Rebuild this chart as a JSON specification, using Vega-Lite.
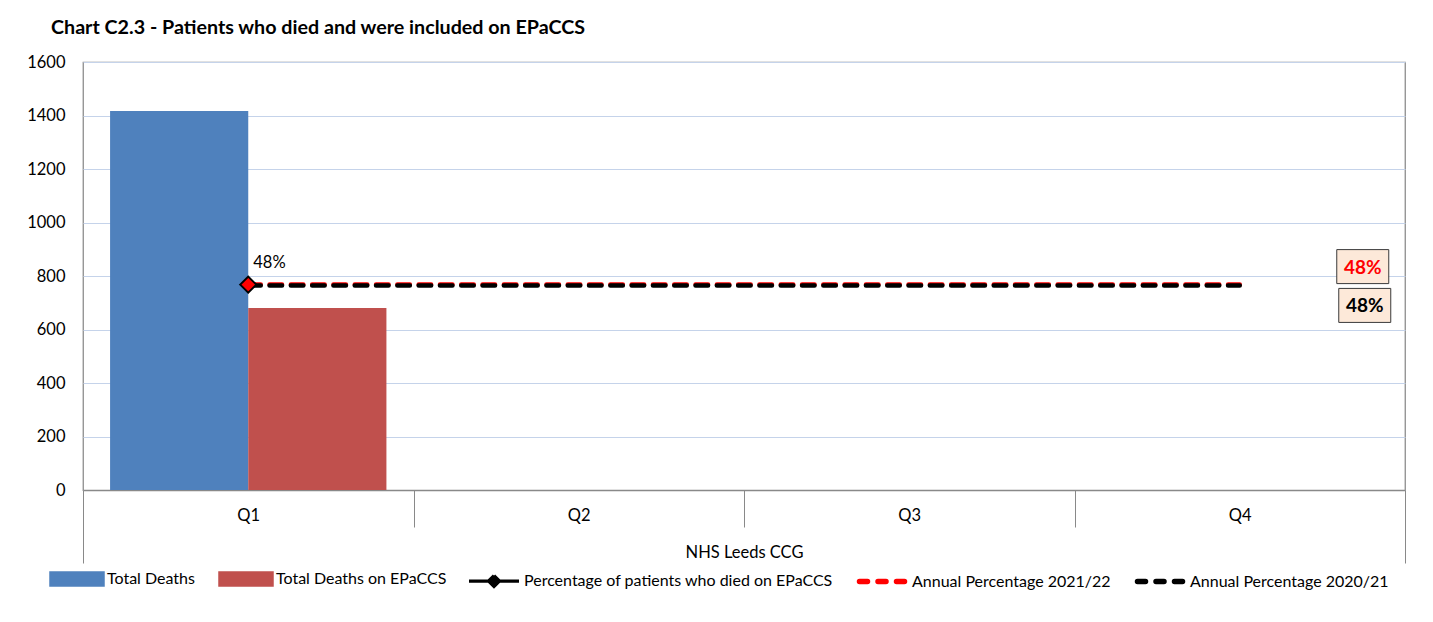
{
  "$schema": "https://vega.github.io/schema/vega-lite/v6.json",
  "width": 1322,
  "height": 428,
  "autosize": {"type": "none"},
  "padding": {"left": 83, "top": 62, "right": 28, "bottom": 132},
  "background": "white",
  "config": {
    "font": "Lato",
    "view": {"stroke": "#898989", "strokeWidth": 1.25}
  },
  "title": {
    "text": "Chart C2.3 - Patients who died and were included on EPaCCS",
    "anchor": "start",
    "frame": "group",
    "dx": -32,
    "offset": 16,
    "fontSize": 19.7,
    "fontWeight": "bold",
    "color": "#000000"
  },
  "datasets": {
    "bars": [
      {"quarter": "Q1", "series": "Total Deaths", "deaths": 1417},
      {"quarter": "Q1", "series": "Total Deaths on EPaCCS", "deaths": 680}
    ],
    "pct": [
      {"quarter": "Q1", "series": "Percentage of patients who died on EPaCCS", "pct": 0.4799}
    ],
    "annual2122": [
      {"quarter": "Q1", "series": "Annual Percentage 2021/22", "pct": 0.4799},
      {"quarter": "Q2", "series": "Annual Percentage 2021/22", "pct": 0.4799},
      {"quarter": "Q3", "series": "Annual Percentage 2021/22", "pct": 0.4799},
      {"quarter": "Q4", "series": "Annual Percentage 2021/22", "pct": 0.4799}
    ],
    "annual2021": [
      {"quarter": "Q1", "series": "Annual Percentage 2020/21", "pct": 0.478},
      {"quarter": "Q2", "series": "Annual Percentage 2020/21", "pct": 0.478},
      {"quarter": "Q3", "series": "Annual Percentage 2020/21", "pct": 0.478},
      {"quarter": "Q4", "series": "Annual Percentage 2020/21", "pct": 0.478}
    ]
  },
  "layer": [
    {
      "data": {"name": "bars"},
      "mark": {"type": "bar"},
      "encoding": {
        "x": {
          "field": "quarter",
          "type": "nominal",
          "scale": {"domain": ["Q1", "Q2", "Q3", "Q4"], "paddingInner": 0, "paddingOuter": 0},
          "axis": {
            "title": "NHS Leeds CCG",
            "labelAngle": 0,
            "tickBand": "extent",
            "tickSize": {"expr": "datum.extra || datum.value === 'Q4' ? 73 : 37"},
            "labelPadding": {"expr": "datum.extra || datum.value === 'Q4' ? -56 : -20"},
            "tickColor": "#898989",
            "tickWidth": 1,
            "domainColor": "#898989",
            "domainWidth": 1.25,
            "labelFontSize": 16.5,
            "labelColor": "#000000",
            "titleFontSize": 16.5,
            "titleFontWeight": "normal",
            "titleColor": "#000000",
            "titleY": 62,
            "titleBaseline": "middle",
            "grid": false
          }
        },
        "xOffset": {
          "field": "series",
          "type": "nominal",
          "scale": {"domain": ["Total Deaths", "Total Deaths on EPaCCS"], "paddingInner": 0, "paddingOuter": 0.196}
        },
        "y": {
          "field": "deaths",
          "type": "quantitative",
          "scale": {"domain": [0, 1600], "nice": false},
          "axis": {
            "title": null,
            "values": [0, 200, 400, 600, 800, 1000, 1200, 1400, 1600],
            "format": "d",
            "ticks": false,
            "domain": false,
            "labelPadding": 18,
            "labelFontSize": 16.5,
            "labelColor": "#000000",
            "gridColor": "#c5d3ea",
            "gridWidth": 1
          }
        },
        "color": {
          "field": "series",
          "type": "nominal",
          "scale": {
            "domain": ["Total Deaths", "Total Deaths on EPaCCS", "Percentage of patients who died on EPaCCS", "Annual Percentage 2021/22", "Annual Percentage 2020/21"],
            "range": ["#4f81bd", "#c0504d", "#000000", "#ff0000", "#000000"]
          },
          "legend": {
            "orient": "none",
            "legendX": -31,
            "legendY": 509,
            "direction": "horizontal",
            "title": null,
            "padding": 0,
            "labelFontSize": 16,
            "labelColor": "#000000",
            "labelLimit": 600,
            "columnPadding": 15,
            "encode": {
              "symbols": {
                "update": {
                  "x": {"value": 25},
                  "y": {"value": 8},
                  "size": {"value": 2500},
                  "shape": {"signal": "datum.value === 'Total Deaths' || datum.value === 'Total Deaths on EPaCCS' ? 'M-1,-0.2H1V0.2H-1Z' : datum.value === 'Percentage of patients who died on EPaCCS' ? 'M-1,0H-0.22M0.22,0H1M0,-0.22L0.22,0L0,0.22L-0.22,0Z' : 'M-0.9,0H0.9'"},
                  "fill": {"signal": "datum.value === 'Total Deaths' ? '#4f81bd' : datum.value === 'Total Deaths on EPaCCS' ? '#c0504d' : datum.value === 'Percentage of patients who died on EPaCCS' ? '#ff0000' : 'transparent'"},
                  "stroke": {"signal": "datum.value === 'Annual Percentage 2021/22' ? '#ff0000' : (datum.value === 'Total Deaths' || datum.value === 'Total Deaths on EPaCCS') ? 'transparent' : '#000000'"},
                  "strokeWidth": {"signal": "datum.value === 'Percentage of patients who died on EPaCCS' ? 3.2 : 5.5"},
                  "strokeDash": {"signal": "indexof(datum.value, 'Annual') === 0 ? [8, 10.5] : [100, 0]"},
                  "strokeCap": {"signal": "indexof(datum.value, 'Annual') === 0 ? 'round' : 'butt'"},
                  "strokeJoin": {"value": "miter"},
                  "opacity": {"value": 1}
                }
              },
              "labels": {
                "update": {
                  "x": {"value": 55},
                  "y": {"value": 8},
                  "baseline": {"value": "middle"}
                }
              }
            }
          }
        }
      }
    },
    {
      "encoding": {
        "x": {"field": "quarter", "type": "nominal"},
        "y": {"field": "pct", "type": "quantitative", "scale": {"domain": [0, 1], "nice": false}, "axis": null}
      },
      "layer": [
        {
          "data": {"name": "pct"},
          "mark": {"type": "line", "strokeWidth": 3},
          "encoding": {"color": {"field": "series", "type": "nominal"}}
        },
        {
          "data": {"name": "annual2122"},
          "mark": {"type": "line", "strokeWidth": 4.5, "strokeDash": [12.5, 8.8], "strokeCap": "round"},
          "encoding": {"color": {"field": "series", "type": "nominal"}}
        },
        {
          "data": {"name": "annual2021"},
          "mark": {"type": "line", "strokeWidth": 4.5, "strokeDash": [12.5, 8.8], "strokeCap": "round"},
          "encoding": {"color": {"field": "series", "type": "nominal"}}
        },
        {
          "data": {"name": "pct"},
          "mark": {"type": "point", "shape": "diamond", "filled": true, "fill": "#ff0000", "stroke": "#000000", "strokeWidth": 2, "size": 260, "opacity": 1}
        },
        {
          "data": {"name": "pct"},
          "mark": {"type": "text", "align": "left", "baseline": "middle", "dx": 5, "dy": -22, "fontSize": 16.5, "color": "#000000"},
          "encoding": {"text": {"field": "pct", "type": "quantitative", "format": ".0%"}}
        },
        {
          "data": {"name": "annual2122"},
          "transform": [{"filter": "datum.quarter === 'Q4'"}],
          "mark": {"type": "point", "shape": "M-1,-0.654H1V0.654H-1Z", "size": 2704, "filled": true, "fill": "#fde9d9", "stroke": "#3a3a3a", "strokeWidth": 1, "opacity": 1, "xOffset": 123, "yOffset": -18}
        },
        {
          "data": {"name": "annual2122"},
          "transform": [{"filter": "datum.quarter === 'Q4'"}],
          "mark": {"type": "text", "align": "center", "baseline": "middle", "dx": 123, "dy": -17, "fontSize": 19, "fontWeight": "bold", "color": "#ff0000"},
          "encoding": {"text": {"field": "pct", "type": "quantitative", "format": ".0%"}}
        },
        {
          "data": {"name": "annual2021"},
          "transform": [{"filter": "datum.quarter === 'Q4'"}],
          "mark": {"type": "point", "shape": "M-1,-0.654H1V0.654H-1Z", "size": 2704, "filled": true, "fill": "#fde9d9", "stroke": "#3a3a3a", "strokeWidth": 1, "opacity": 1, "xOffset": 125, "yOffset": 20}
        },
        {
          "data": {"name": "annual2021"},
          "transform": [{"filter": "datum.quarter === 'Q4'"}],
          "mark": {"type": "text", "align": "center", "baseline": "middle", "dx": 125, "dy": 21, "fontSize": 19, "fontWeight": "bold", "color": "#000000"},
          "encoding": {"text": {"field": "pct", "type": "quantitative", "format": ".0%"}}
        }
      ]
    }
  ],
  "resolve": {"scale": {"y": "independent"}}
}
